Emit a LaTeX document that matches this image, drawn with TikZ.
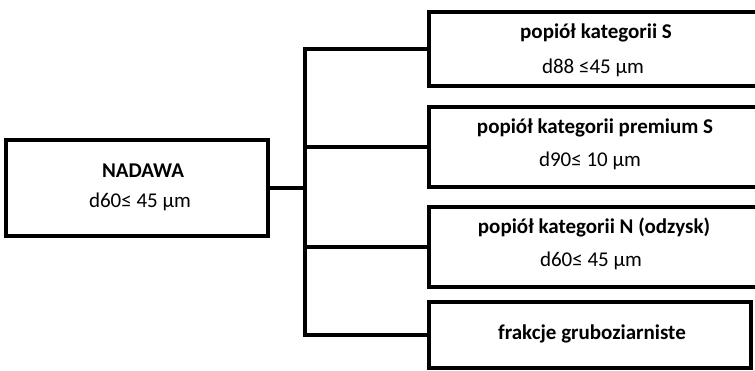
\documentclass[tikz,border=0pt]{standalone}
\usepackage{fontspec}
\setmainfont{Carlito}
\begin{document}
\begin{tikzpicture}[x=1pt,y=-1pt,
  box/.style={draw=black,line width=4pt,fill=white,inner sep=0pt},
  link/.style={draw=black,line width=4pt,line cap=rect},
  ttl/.style={anchor=base,inner sep=0pt,font=\fontsize{21}{25}\selectfont\bfseries},
  sub/.style={anchor=base,inner sep=0pt,font=\fontsize{21}{25}\selectfont}]
\useasboundingbox (0,0) rectangle (755,371);
\clip (0,0) rectangle (755,371);
% boxes
\node[box,minimum width=262pt,minimum height=96pt] (nad) at (137,188) {};
\node[box,minimum width=336pt,minimum height=74pt] (b1) at (597,49) {};
\node[box,minimum width=336pt,minimum height=80pt] (b2) at (597,147) {};
\node[box,minimum width=336pt,minimum height=80pt] (b3) at (597,247) {};
\node[box,minimum width=322pt,minimum height=66pt] (b4) at (590,335) {};
% trunk
\coordinate (tx) at (305,0);
\draw[link] (b1.west -| tx) -- (b4.west -| tx);
\draw[link] (nad.east) -- (nad.east -| tx);
\draw[link] (b1.west -| tx) -- (b1.west);
\draw[link] (b2.west -| tx) -- (b2.west);
\draw[link] (b3.west -| tx) -- (b3.west);
\draw[link] (b4.west -| tx) -- (b4.west);
% texts
\node[ttl] (t0) at (143,178) {NADAWA};
\node[sub] (s0) at (140,208) {d60≤ 45 µm};
\node[ttl] (t1) at (596,39) {popiół kategorii S};
\node[sub] (s1) at (593,74) {d88 ≤45 µm};
\node[ttl] (t2) at (595,134) {popiół kategorii premium S};
\node[sub] (s2) at (590,167) {d90≤ 10 µm};
\node[ttl] (t3) at (594,234) {popiół kategorii N (odzysk)};
\node[sub] (s3) at (591,267) {d60≤ 45 µm};
\node[ttl] (t4) at (592,340) {frakcje gruboziarniste};
\end{tikzpicture}
\end{document}
